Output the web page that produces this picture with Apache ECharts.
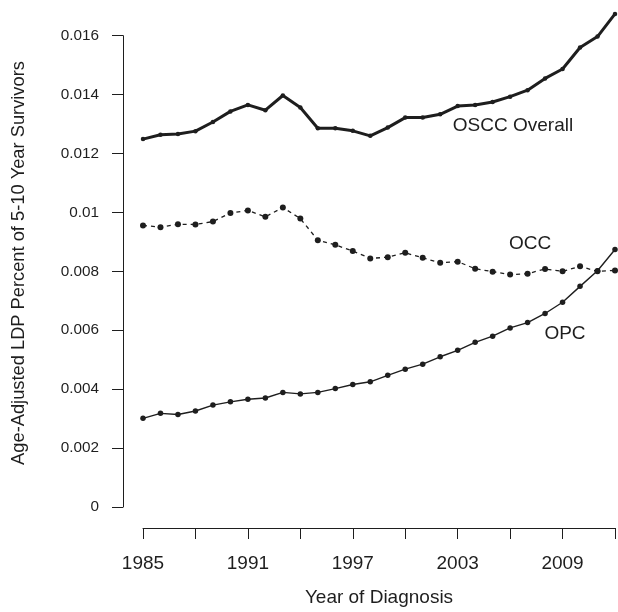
<!DOCTYPE html>
<html>
<head>
<meta charset="utf-8">
<script src="https://cdn.jsdelivr.net/npm/echarts@6/dist/echarts.min.js"></script>
<style>
html,body{margin:0;padding:0;background:#fff;}
#chart{width:618px;height:612px;}
</style>
</head>
<body>
<div id="chart"></div>
<script>
const years = [1985,1986,1987,1988,1989,1990,1991,1992,1993,1994,1995,1996,1997,1998,1999,2000,2001,2002,2003,2004,2005,2006,2007,2008,2009,2010,2011,2012];
const osccOverall = [0.01249,0.01264,0.01266,0.01276,0.01307,0.01343,0.01365,0.01347,0.01397,0.01356,0.01286,0.01286,0.01277,0.01260,0.01288,0.01322,0.01322,0.01333,0.01361,0.01365,0.01375,0.01393,0.01415,0.01455,0.01487,0.01560,0.01597,0.01674];
const occ = [0.00956,0.00950,0.00960,0.00959,0.00969,0.00998,0.01007,0.00985,0.01017,0.00979,0.00906,0.00890,0.00869,0.00844,0.00848,0.00863,0.00846,0.00829,0.00833,0.00809,0.00799,0.00789,0.00792,0.00808,0.00800,0.00817,0.00800,0.00803];
const opc = [0.00301,0.00318,0.00314,0.00326,0.00346,0.00357,0.00366,0.00370,0.00389,0.00384,0.00389,0.00402,0.00416,0.00425,0.00447,0.00468,0.00485,0.00510,0.00532,0.00559,0.00580,0.00608,0.00626,0.00657,0.00695,0.00749,0.00802,0.00874];
const yTicks = [0,0.002,0.004,0.006,0.008,0.01,0.012,0.014,0.016];
const xLabelYears = [1985,1991,1997,2003,2009];

const FONT = '"Liberation Sans", Arial, Helvetica, sans-serif';
const INK = '#1e1e1e';
const pairs = arr => years.map((y,i)=>[y,arr[i]]);

const chart = echarts.init(document.getElementById('chart'), null, {renderer:'canvas'});
chart.setOption({
  backgroundColor:'#ffffff',
  animation:false,
  grid:{left:143, right:0, top:35.7, bottom:100, containLabel:false},
  xAxis:{
    type:'value', min:1985, max:2012, interval:3, offset:21,
    name:'Year of Diagnosis', nameLocation:'middle', nameGap:60,
    nameTextStyle:{fontFamily:FONT, fontSize:19, color:INK},
    axisLine:{show:true, onZero:false, lineStyle:{color:INK, width:1}},
    axisTick:{show:true, length:11, lineStyle:{color:INK, width:1}},
    axisLabel:{margin:26, fontFamily:FONT, fontSize:19, color:INK,
      formatter: v => xLabelYears.indexOf(v) >= 0 ? String(v) : ''},
    splitLine:{show:false}
  },
  yAxis:{
    type:'value', min:0, max:0.016, interval:0.002, offset:20,
    axisLine:{show:true, onZero:false, lineStyle:{color:INK, width:1}},
    axisTick:{show:true, length:11, lineStyle:{color:INK, width:1}},
    axisLabel:{margin:24, fontFamily:FONT, fontSize:15.3, color:INK,
      formatter: v => { const t = yTicks.find(k => Math.abs(k - v) < 1e-9); return String(t !== undefined ? t : v); }},
    splitLine:{show:false}
  },
  series:[
    {name:'OSCC Overall', type:'line', data:pairs(osccOverall), clip:false,
     symbol:'circle', symbolSize:4.5, itemStyle:{color:INK},
     lineStyle:{color:INK, width:3}},
    {name:'OCC', type:'line', data:pairs(occ), clip:false,
     symbol:'circle', symbolSize:6, itemStyle:{color:INK},
     lineStyle:{color:INK, width:1.3, type:[4,4]}},
    {name:'OPC', type:'line', data:pairs(opc), clip:false,
     symbol:'circle', symbolSize:5.5, itemStyle:{color:INK},
     lineStyle:{color:INK, width:1.4}}
  ],
  graphic:[
    {type:'text', x:19, y:263, rotation:Math.PI/2,
     style:{text:'Age-Adjusted LDP Percent of 5-10 Year Survivors', fontFamily:FONT, fontSize:18.3, fill:INK, textAlign:'center', textVerticalAlign:'middle'}},
    {type:'text', x:513, y:126, style:{text:'OSCC Overall', fontFamily:FONT, fontSize:19, fill:INK, textAlign:'center', textVerticalAlign:'middle'}},
    {type:'text', x:530, y:244, style:{text:'OCC', fontFamily:FONT, fontSize:19, fill:INK, textAlign:'center', textVerticalAlign:'middle'}},
    {type:'text', x:565, y:334, style:{text:'OPC', fontFamily:FONT, fontSize:19, fill:INK, textAlign:'center', textVerticalAlign:'middle'}}
  ]
});
</script>
</body>
</html>
